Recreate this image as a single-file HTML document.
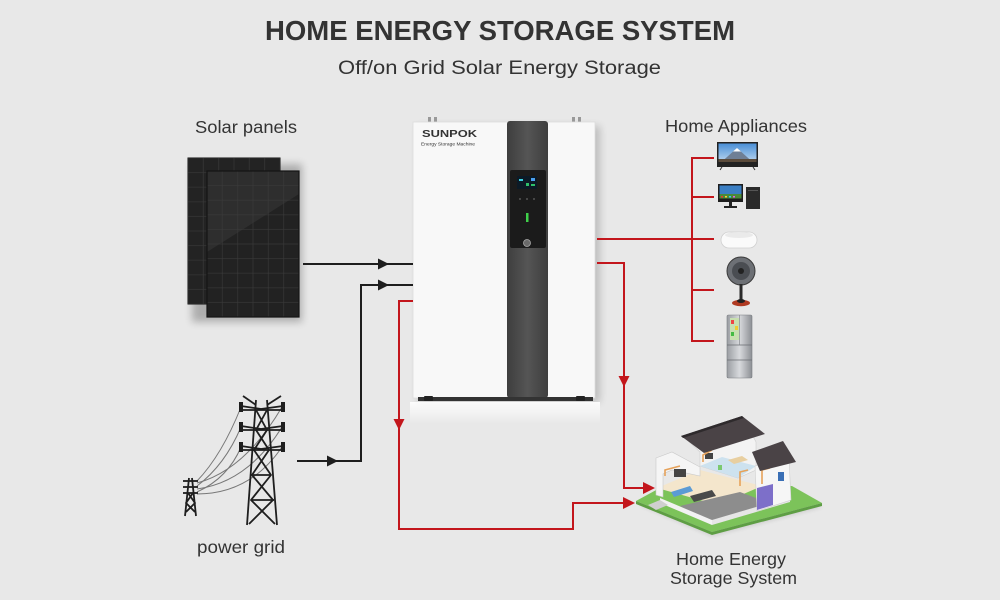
<!DOCTYPE html>
<html><head><meta charset="utf-8"><style>
html,body{margin:0;padding:0;background:#e8e8e8;}
svg{display:block}
text{font-family:"Liberation Sans",sans-serif;fill:#333}
</style></head><body>
<svg width="1000" height="600" viewBox="0 0 1000 600" xmlns="http://www.w3.org/2000/svg">
<defs>
  <filter id="blur4" x="-20%" y="-20%" width="140%" height="140%"><feGaussianBlur stdDeviation="4"/></filter>
  <filter id="blur2" x="-20%" y="-20%" width="140%" height="140%"><feGaussianBlur stdDeviation="2"/></filter>
  <linearGradient id="under" x1="0" y1="0" x2="0" y2="1">
    <stop offset="0" stop-color="#ffffff" stop-opacity="0.9"/>
    <stop offset="1" stop-color="#ffffff" stop-opacity="0"/>
  </linearGradient>
  <linearGradient id="col" x1="0" y1="0" x2="1" y2="0">
    <stop offset="0" stop-color="#3e3e3e"/>
    <stop offset="0.5" stop-color="#555"/>
    <stop offset="1" stop-color="#3e3e3e"/>
  </linearGradient>
  <linearGradient id="fridge" x1="0" y1="0" x2="1" y2="0">
    <stop offset="0" stop-color="#9a9da2"/>
    <stop offset="0.5" stop-color="#d8dadd"/>
    <stop offset="1" stop-color="#8c8f94"/>
  </linearGradient>
  <linearGradient id="sky" x1="0" y1="0" x2="0" y2="1">
    <stop offset="0" stop-color="#4a8fd6"/>
    <stop offset="1" stop-color="#b8d4ee"/>
  </linearGradient>
  <pattern id="cells" x="207" y="171" width="15.33" height="14.6" patternUnits="userSpaceOnUse">
    <rect width="15.33" height="14.6" fill="none" stroke="#3a3a3a" stroke-width="0.6"/>
  </pattern>
  <pattern id="cells2" x="188" y="158" width="15.33" height="14.6" patternUnits="userSpaceOnUse">
    <rect width="15.33" height="14.6" fill="none" stroke="#3a3a3a" stroke-width="0.6"/>
  </pattern>
</defs>

<rect width="1000" height="600" fill="#e8e8e8"/>

<!-- Titles -->
<text x="265" y="40" font-size="28" font-weight="bold" textLength="470" lengthAdjust="spacingAndGlyphs" fill="#333">HOME ENERGY STORAGE SYSTEM</text>
<text x="338" y="74" font-size="19" textLength="323" lengthAdjust="spacingAndGlyphs" fill="#3a3a3a">Off/on Grid Solar Energy Storage</text>

<!-- Labels -->
<text x="195" y="133" font-size="17.5" textLength="102" lengthAdjust="spacingAndGlyphs">Solar panels</text>
<text x="665" y="132" font-size="17.5" textLength="142" lengthAdjust="spacingAndGlyphs">Home Appliances</text>
<text x="197" y="553" font-size="17.5" textLength="88" lengthAdjust="spacingAndGlyphs">power grid</text>
<text x="676" y="565" font-size="17.5" textLength="110" lengthAdjust="spacingAndGlyphs">Home Energy</text>
<text x="670" y="584" font-size="17.5" textLength="127" lengthAdjust="spacingAndGlyphs">Storage System</text>

<!-- Solar panels -->
<rect x="192" y="164" width="110" height="158" fill="#000" opacity="0.25" filter="url(#blur4)"/>
<rect x="188" y="158" width="92" height="146" fill="#232323" stroke="#111" stroke-width="1"/>
<rect x="188" y="158" width="92" height="146" fill="url(#cells2)"/>
<rect x="207" y="171" width="92" height="146" fill="#222" stroke="#111" stroke-width="1"/>
<polygon points="207,171 299,171 299,194 207,252" fill="#2e2e2e"/>
<rect x="207" y="171" width="92" height="146" fill="url(#cells)"/>
<rect x="207" y="171" width="92" height="146" fill="none" stroke="#141414" stroke-width="1.2"/>

<!-- Machine shadow & reflection -->
<rect x="418" y="126" width="182" height="276" fill="#000" opacity="0.18" filter="url(#blur4)"/>
<rect x="410" y="402" width="190" height="22" fill="url(#under)"/>
<!-- Machine top connectors -->
<rect x="428" y="117" width="3" height="5" fill="#999"/>
<rect x="434" y="117" width="3" height="5" fill="#999"/>
<rect x="572" y="117" width="3" height="5" fill="#999"/>
<rect x="578" y="117" width="3" height="5" fill="#999"/>
<!-- Machine body -->
<rect x="413" y="122" width="95" height="276" fill="#f8f8f8" stroke="#dcdcdc" stroke-width="0.8"/>
<rect x="547" y="122" width="48" height="276" fill="#f8f8f8" stroke="#dcdcdc" stroke-width="0.8"/>
<rect x="507" y="121" width="41" height="277" rx="3" fill="url(#col)"/>
<rect x="510" y="170" width="36" height="78" rx="2" fill="#1b1b1b"/>
<rect x="517" y="176" width="20" height="13" fill="#0c1a26"/>
<rect x="519" y="179" width="4" height="2" fill="#3ad0e0"/>
<rect x="526" y="183" width="3" height="3" fill="#2fc06a"/>
<rect x="531" y="178" width="4" height="3" fill="#4aa0f0"/>
<rect x="531" y="184" width="4" height="2" fill="#2fc06a"/>
<circle cx="520" cy="199" r="1" fill="#555"/>
<circle cx="527" cy="199" r="1" fill="#555"/>
<circle cx="534" cy="199" r="1" fill="#555"/>
<rect x="526" y="213" width="2.5" height="9" fill="#3fd04a"/>
<circle cx="527" cy="243" r="3.5" fill="#6a6a6a" stroke="#aaa" stroke-width="0.8"/>
<!-- logo -->
<text x="422" y="137" font-size="10" font-weight="bold" textLength="55" lengthAdjust="spacingAndGlyphs" fill="#3a3a3a">SUNPOK</text>
<text x="421" y="145.5" font-size="4.5" textLength="54" lengthAdjust="spacingAndGlyphs" fill="#555">Energy Storage Machine</text>
<!-- base -->
<rect x="418" y="397" width="175" height="4" fill="#333"/>
<rect x="424" y="396" width="9" height="5" rx="1" fill="#222"/>
<rect x="576" y="396" width="9" height="5" rx="1" fill="#222"/>

<!-- Black connectors -->
<g stroke="#1e1e1e" stroke-width="2" fill="none">
  <line x1="303" y1="264" x2="413" y2="264"/>
  <polyline points="297,461 361,461 361,285 413,285"/>
</g>
<g fill="#1e1e1e">
  <polygon points="378,258.5 389,264 378,269.5"/>
  <polygon points="378,279.5 389,285 378,290.5"/>
  <polygon points="327,455.5 338,461 327,466.5"/>
</g>

<!-- Red connectors -->
<g stroke="#c3161c" stroke-width="2" fill="none">
  <polyline points="413,301 399,301 399,529 573,529 573,503 625,503"/>
  <polyline points="597,263 624,263 624,488 645,488"/>
  <line x1="597" y1="239" x2="714" y2="239"/>
  <line x1="692" y1="157" x2="692" y2="342"/>
  <line x1="692" y1="158" x2="714" y2="158"/>
  <line x1="692" y1="197" x2="714" y2="197"/>
  <line x1="692" y1="290" x2="714" y2="290"/>
  <line x1="692" y1="341" x2="714" y2="341"/>
</g>
<g fill="#c3161c">
  <polygon points="393.5,419 399,430 404.5,419"/>
  <polygon points="618.5,376 624,387 629.5,376"/>
  <polygon points="623,497 635,503 623,509"/>
  <polygon points="643,482 655,488 643,494"/>
</g>

<!-- Appliances -->
<!-- TV -->
<rect x="717" y="142" width="41" height="25" fill="#222"/>
<rect x="718.5" y="143.5" width="38" height="18" fill="url(#sky)"/>
<polygon points="722,161.5 737,148 752,161.5" fill="#6f7f95"/>
<polygon points="733,151.5 737,148 741,151.5" fill="#fff"/>
<rect x="718.5" y="159" width="38" height="3" fill="#5a4a3a"/>
<line x1="722" y1="167" x2="720" y2="170" stroke="#333" stroke-width="1"/>
<line x1="753" y1="167" x2="755" y2="170" stroke="#333" stroke-width="1"/>
<!-- Computer -->
<rect x="718" y="184" width="25" height="18" fill="#1e1e1e"/>
<rect x="719.5" y="185.5" width="22" height="13" fill="#3b7fc4"/>
<rect x="719.5" y="194" width="22" height="4.5" fill="#4a8a3a"/>
<rect x="721" y="196" width="2" height="1.5" fill="#e33"/><rect x="725" y="196" width="2" height="1.5" fill="#fc3"/><rect x="729" y="196" width="2" height="1.5" fill="#3cf"/><rect x="733" y="196" width="2" height="1.5" fill="#e5e"/>
<rect x="729" y="202" width="3" height="4" fill="#222"/>
<rect x="724" y="206" width="13" height="2" fill="#222"/>
<rect x="746" y="187" width="14" height="22" fill="#2a2a2a"/>
<rect x="748" y="190" width="10" height="1" fill="#555"/>
<!-- Lamp -->
<rect x="721" y="232" width="36" height="16" rx="8" fill="#fafafa" stroke="#cfcfcf" stroke-width="0.8"/>
<ellipse cx="739" cy="235" rx="14" ry="3" fill="#eaeaea"/>
<!-- Fan -->
<circle cx="741" cy="271" r="14" fill="#6d7075" stroke="#3a3a3a" stroke-width="1"/>
<circle cx="741" cy="271" r="9" fill="#4a4d52"/>
<circle cx="741" cy="271" r="3" fill="#222"/>
<rect x="739.5" y="284" width="3" height="17" fill="#2a2a2a"/>
<ellipse cx="741" cy="303" rx="9" ry="3.2" fill="#b03a22"/>
<ellipse cx="741" cy="301" rx="4" ry="2" fill="#222"/>
<!-- Fridge -->
<rect x="727" y="315" width="25" height="63" rx="1.5" fill="url(#fridge)" stroke="#7a7d82" stroke-width="0.6"/>
<rect x="730" y="318" width="9" height="22" fill="#c8e0b0"/>
<rect x="731" y="320" width="3" height="4" fill="#e44"/><rect x="735" y="326" width="3" height="4" fill="#ec3"/><rect x="731" y="332" width="3" height="4" fill="#4b4"/>
<line x1="727" y1="345" x2="752" y2="345" stroke="#6a6d72" stroke-width="0.8"/>
<line x1="727" y1="360" x2="752" y2="360" stroke="#6a6d72" stroke-width="0.8"/>
<line x1="739.5" y1="315" x2="739.5" y2="345" stroke="#7a7d82" stroke-width="0.6"/>

<!-- Power grid -->
<g stroke="#777" stroke-width="1" fill="none">
  <path d="M197,481 Q222,455 241,407"/>
  <path d="M197,486 Q225,465 241,427"/>
  <path d="M197,492 Q228,478 241,447"/>
  <path d="M197,483 Q245,470 282,407"/>
  <path d="M197,489 Q248,482 282,427"/>
  <path d="M197,494 Q250,494 282,447"/>
</g>
<g stroke="#1e1e1e" stroke-width="1.8" fill="none" stroke-linejoin="round">
  <!-- big tower -->
  <line x1="256" y1="400" x2="247" y2="525"/>
  <line x1="267" y1="400" x2="277" y2="525"/>
  <line x1="256" y1="405" x2="243" y2="396"/>
  <line x1="267" y1="405" x2="281" y2="396"/>
  <polyline points="241,406 261,409 283,406"/>
  <line x1="241" y1="410" x2="283" y2="410"/>
  <polyline points="241,426 261,429 283,426"/>
  <line x1="241" y1="430" x2="283" y2="430"/>
  <polyline points="241,446 261,449 283,446"/>
  <line x1="241" y1="450" x2="283" y2="450"/>
  <polyline points="256,410 267,430 254,450 271,475 251,500 275,524"/>
  <polyline points="267,410 256,430 269,450 252,475 273,500 249,524"/>
  <line x1="253" y1="475" x2="271" y2="475"/>
  <line x1="251" y1="500" x2="274" y2="500"/>
  <!-- small tower -->
  <line x1="189" y1="478" x2="185" y2="516"/>
  <line x1="192" y1="478" x2="196" y2="516"/>
  <line x1="183" y1="481" x2="198" y2="481"/>
  <line x1="183" y1="487" x2="198" y2="487"/>
  <line x1="183" y1="493" x2="198" y2="493"/>
  <polyline points="188,493 195,503 186,512"/>
  <polyline points="193,493 186,503 195,512"/>
</g>
<g fill="#1e1e1e">
  <rect x="239" y="402" width="4" height="10"/>
  <rect x="281" y="402" width="4" height="10"/>
  <rect x="239" y="422" width="4" height="10"/>
  <rect x="281" y="422" width="4" height="10"/>
  <rect x="239" y="442" width="4" height="10"/>
  <rect x="281" y="442" width="4" height="10"/>
</g>

<!-- House -->
<polygon points="640,505 660,493 792,490 822,507 712,536" fill="#000" opacity="0.12" filter="url(#blur2)"/>
<polygon points="636,501 658,489 792,486 822,503 712,532" fill="#7cc35a"/>
<polygon points="636,501 712,532 822,503 822,506 712,535 636,504" fill="#5e9e44"/>
<!-- ground floor interior -->
<polygon points="657,488 700,470 762,486 718,505" fill="#f4e6cc"/>
<polygon points="680,506 740,492 772,504 712,524" fill="#8d8d8d"/>
<polygon points="660,498 712,520 712,525 660,503" fill="#f2f2f2"/>
<polygon points="712,520 790,497 790,502 712,525" fill="#e6e6e6"/>
<!-- steps -->
<polygon points="648,505 660,500 668,505 656,510" fill="#cfcfcf"/>
<!-- left wing wall -->
<polygon points="656,458 672,452 700,467 700,476 672,470 663,474 663,497 656,495" fill="#f5f5f5" stroke="#c9c9c9" stroke-width="0.6"/>
<rect x="674" y="469" width="12" height="8" fill="#444"/>
<polygon points="671,492 690,486 693,491 674,497" fill="#5b9bd5"/>
<polygon points="690,496 712,490 716,496 694,502" fill="#4a4a4a"/>
<!-- upper floor -->
<polygon points="684,437 743,418 756,442 756,470 738,478 700,466 700,452" fill="#f3f3f3" stroke="#cfcfcf" stroke-width="0.6"/>
<polygon points="700,466 722,457 756,466 738,478" fill="#cde2ef"/>
<polygon points="728,460 742,456 748,460 734,464" fill="#e8cfa0"/>
<rect x="705" y="453" width="8" height="6" fill="#444"/>
<rect x="718" y="465" width="4" height="5" fill="#7bc96f"/>
<!-- right wing -->
<polygon points="755,466 789,458 791,500 757,511" fill="#f6f6f6" stroke="#cfcfcf" stroke-width="0.6"/>
<polygon points="757,488 773,484 773,505 757,510" fill="#7d6fc9"/>
<rect x="778" y="472" width="6" height="9" fill="#3a6fb5"/>
<!-- pipes -->
<g stroke="#e6a25a" stroke-width="1.6" fill="none">
  <polyline points="665,476 665,470 680,466"/>
  <polyline points="703,462 703,455 712,450"/>
  <polyline points="740,486 740,472 748,470"/>
  <polyline points="762,484 762,470 770,468"/>
</g>
<!-- roofs -->
<polygon points="681,436 742,416 765,434 704,453" fill="#4a4346"/>
<polygon points="681,436 742,416 744,418 683,438" fill="#2e2a2c"/>
<polygon points="752,452 783,441 796,462 760,471" fill="#4a4346"/>

</svg>
</body></html>
